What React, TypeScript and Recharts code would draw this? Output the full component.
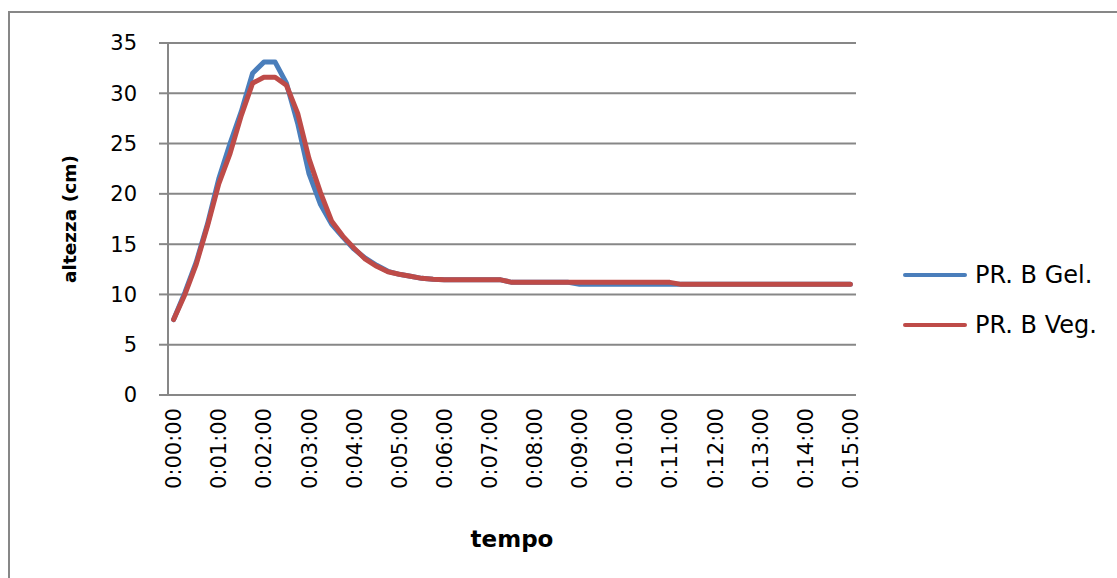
import React from 'react';
import { LineChart, Line, XAxis, YAxis, CartesianGrid, Legend, Label } from 'recharts';

// Time stamps, one reading every 15 seconds
const tempo = [
  '0:00:00', '0:00:15', '0:00:30', '0:00:45',
  '0:01:00', '0:01:15', '0:01:30', '0:01:45',
  '0:02:00', '0:02:15', '0:02:30', '0:02:45',
  '0:03:00', '0:03:15', '0:03:30', '0:03:45',
  '0:04:00', '0:04:15', '0:04:30', '0:04:45',
  '0:05:00', '0:05:15', '0:05:30', '0:05:45',
  '0:06:00', '0:06:15', '0:06:30', '0:06:45',
  '0:07:00', '0:07:15', '0:07:30', '0:07:45',
  '0:08:00', '0:08:15', '0:08:30', '0:08:45',
  '0:09:00', '0:09:15', '0:09:30', '0:09:45',
  '0:10:00', '0:10:15', '0:10:30', '0:10:45',
  '0:11:00', '0:11:15', '0:11:30', '0:11:45',
  '0:12:00', '0:12:15', '0:12:30', '0:12:45',
  '0:13:00', '0:13:15', '0:13:30', '0:13:45',
  '0:14:00', '0:14:15', '0:14:30', '0:14:45',
  '0:15:00',
];

// Foam height (cm) - PR. B Gel.
const prBGel = [
  7.5, 10.2, 13.2, 17.0, 21.5, 25.0, 28.2, 32.0,
  33.1, 33.1, 31.0, 27.0, 22.0, 19.0, 17.0, 15.7,
  14.5, 13.6, 12.9, 12.3, 12.0, 11.8, 11.6, 11.5,
  11.45, 11.45, 11.45, 11.45, 11.45, 11.45,
  11.2, 11.2, 11.2, 11.2, 11.2, 11.2,
  11.0, 11.0, 11.0, 11.0, 11.0, 11.0, 11.0, 11.0, 11.0, 11.0,
  11.0, 11.0, 11.0, 11.0, 11.0, 11.0, 11.0, 11.0, 11.0, 11.0,
  11.0, 11.0, 11.0, 11.0, 11.0,
];

// Foam height (cm) - PR. B Veg.
const prBVeg = [
  7.5, 10.0, 13.0, 16.8, 21.0, 24.0, 27.8, 31.0,
  31.6, 31.6, 30.8, 28.0, 23.5, 20.2, 17.3, 15.8,
  14.6, 13.5, 12.8, 12.25, 12.0, 11.8, 11.6, 11.5,
  11.45, 11.45, 11.45, 11.45, 11.45, 11.45,
  11.2, 11.2, 11.2, 11.2, 11.2, 11.2, 11.2, 11.2, 11.2, 11.2,
  11.2, 11.2, 11.2, 11.2, 11.2,
  11.0, 11.0, 11.0, 11.0, 11.0, 11.0, 11.0, 11.0,
  11.0, 11.0, 11.0, 11.0, 11.0, 11.0, 11.0, 11.0,
];

const yTicks = [0, 5, 10, 15, 20, 25, 30, 35];

const rows = tempo.map((t, i) => ({ idx: i, tempo: t, gel: prBGel[i], veg: prBVeg[i] }));

// category boundaries (tick marks sit between categories) and labelled categories (every minute)
const boundaryTicks = [...tempo.map((_, i) => i - 0.5), tempo.length - 0.5];
const labelTicks = tempo.map((_, i) => i).filter((i) => i % 4 === 0);
const xDomain = [-0.5, tempo.length - 0.5];

const GRID = '#878787';
const FONT = '"DejaVu Sans", sans-serif';

const TimeTick = (props: any) => {
  const { x, y, payload } = props;
  const ty = y + 5;
  return (
    <text
      x={x}
      y={ty}
      transform={`rotate(-90 ${x} ${ty})`}
      textAnchor="end"
      dy="0.36em"
      fontFamily={FONT}
      fontSize={21}
      fill="#000"
    >
      {tempo[payload.value]}
    </text>
  );
};

const LegendBox = (props: any) => {
  const { payload } = props;
  return (
    <div style={{ display: 'flex', flexDirection: 'column' }}>
      {(payload || []).map((entry: any) => (
        <div key={entry.value} style={{ display: 'flex', alignItems: 'center', height: 50 }}>
          <svg width={64} height={8} style={{ display: 'block' }}>
            <line x1={2} y1={4} x2={62} y2={4} stroke={entry.color} strokeWidth={4} strokeLinecap="round" />
          </svg>
          <span style={{ marginLeft: 8, fontFamily: FONT, fontSize: 24, color: '#000', whiteSpace: 'nowrap' }}>
            {entry.value}
          </span>
        </div>
      ))}
    </div>
  );
};

export default function App() {
  return (
    <div style={{ position: 'absolute', left: 0, top: 0, width: 1117, height: 578, overflow: 'hidden', background: '#fff' }}>
      <div
        style={{
          position: 'absolute',
          left: 8,
          top: 11,
          width: 1130,
          height: 600,
          border: `2px solid ${GRID}`,
          boxSizing: 'border-box',
        }}
      />
      <div style={{ position: 'absolute', left: 0, top: 0 }}>
        <LineChart width={1117} height={578} data={rows} margin={{ top: 43, right: 261, bottom: 20, left: 108 }}>
          <CartesianGrid vertical={false} stroke={GRID} strokeWidth={2} xAxisId={0} />
          <XAxis
            xAxisId={0}
            dataKey="idx"
            type="number"
            domain={xDomain}
            ticks={boundaryTicks}
            tick={false}
            tickSize={8}
            height={8}
            axisLine={{ stroke: GRID, strokeWidth: 2 }}
            tickLine={{ stroke: GRID, strokeWidth: 1.5 }}
            allowDataOverflow
          />
          <XAxis
            xAxisId={1}
            dataKey="idx"
            type="number"
            domain={xDomain}
            ticks={labelTicks}
            interval={0}
            tick={<TimeTick />}
            tickSize={0}
            tickMargin={0}
            axisLine={false}
            tickLine={false}
            height={155}
            allowDataOverflow
          >
            <Label
              value="tempo"
              position="insideBottom"
              offset={11}
              style={{ fontFamily: FONT, fontWeight: 'bold', fontSize: 23, fill: '#000' }}
            />
          </XAxis>
          <YAxis
            domain={[0, 35]}
            ticks={yTicks}
            interval={0}
            width={60}
            tickSize={9}
            tickMargin={22}
            axisLine={{ stroke: GRID, strokeWidth: 2 }}
            tickLine={{ stroke: GRID, strokeWidth: 2 }}
            tick={{ fontFamily: FONT, fontSize: 21, fill: '#000' }}
          >
            <Label
              value="altezza (cm)"
              angle={-90}
              position="center"
              dx={-69}
              style={{ fontFamily: FONT, fontWeight: 'bold', fontSize: 18.5, fill: '#000', textAnchor: 'middle' }}
            />
          </YAxis>
          <Legend
            layout="vertical"
            align="center"
            verticalAlign="middle"
            content={<LegendBox />}
            wrapperStyle={{ left: 903, top: 250, width: 'auto' }}
          />
          <Line
            xAxisId={0}
            name="PR. B Gel."
            dataKey="gel"
            stroke="#4A7EBB"
            strokeWidth={5}
            strokeLinejoin="round"
            strokeLinecap="round"
            dot={false}
            activeDot={false}
            isAnimationActive={false}
          />
          <Line
            xAxisId={0}
            name="PR. B Veg."
            dataKey="veg"
            stroke="#BE4B48"
            strokeWidth={5}
            strokeLinejoin="round"
            strokeLinecap="round"
            dot={false}
            activeDot={false}
            isAnimationActive={false}
          />
        </LineChart>
      </div>
    </div>
  );
}
